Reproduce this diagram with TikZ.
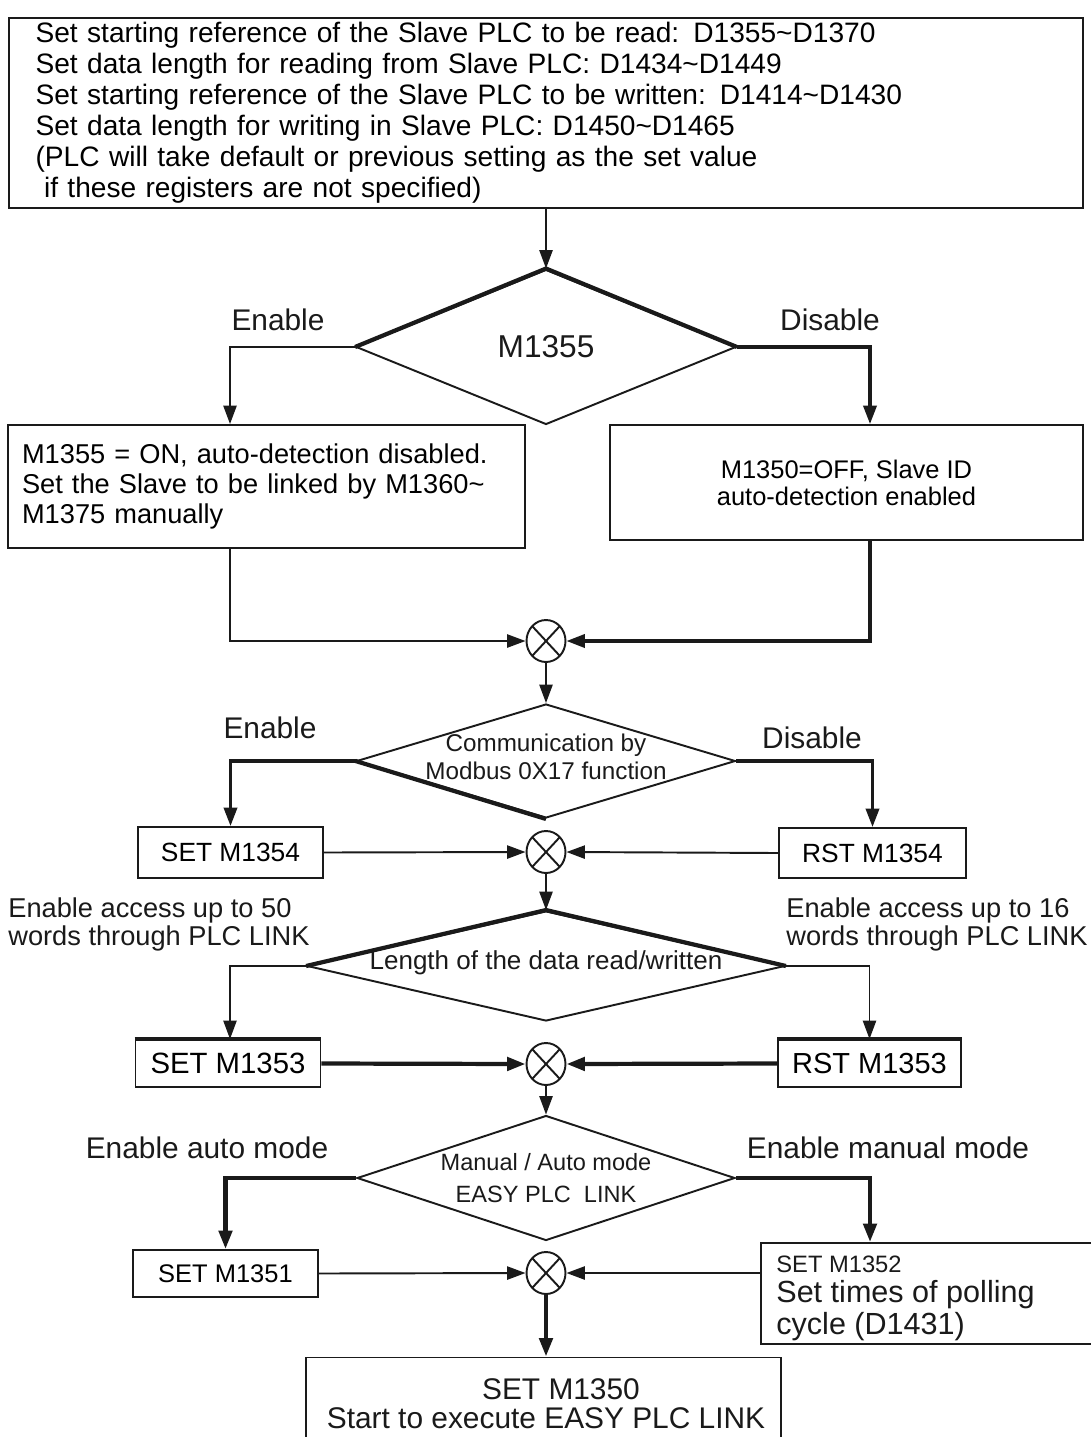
\documentclass[tikz,border=0pt]{standalone}
\usepackage{fontspec}
\setmainfont{Liberation Sans}
\usetikzlibrary{arrows.meta,positioning,shapes.geometric}
\definecolor{InkBlack}{HTML}{1A1A1A}
\tikzset{
  box/.style={draw=InkBlack,line width=1.1pt,inner sep=0pt},
  decision/.style={diamond,draw=InkBlack,line width=1.1pt,inner sep=0pt},
  junction/.style={ellipse,draw=InkBlack,line width=1.1pt,inner sep=0pt,
    minimum width=0.78cm,minimum height=0.84cm,
    path picture={\draw[line width=1.1pt]
      (path picture bounding box.north west)--(path picture bounding box.south east)
      (path picture bounding box.north east)--(path picture bounding box.south west);}},
  flow/.style={draw=InkBlack,line width=1.1pt,-{Triangle[length=10.5pt,width=7.5pt]}},
  boldline/.style={line width=2.4pt},
  lbl/.style={text=InkBlack,inner sep=0pt}
}

\begin{document}
\begin{tikzpicture}[x=0.02cm,y=-0.02cm]
  \useasboundingbox (0,0) rectangle (1091,1437);
  \clip (0,0) rectangle (1091,1437);

  % register setup
  \node[box,minimum width=21.5cm,minimum height=3.8cm,text width=20.42cm,align=left,
        font=\fontsize{16}{17.6}\selectfont] (setup) at (546,113) {%
    Set starting reference of the Slave PLC to be read: D1355\textasciitilde D1370\\
    Set data length for reading from Slave PLC: D1434\textasciitilde D1449\\
    Set starting reference of the Slave PLC to be written: D1414\textasciitilde D1430\\
    Set data length for writing in Slave PLC: D1450\textasciitilde D1465\\
    (PLC will take default or previous setting as the set value\\
    \hspace{0.3em}if these registers are not specified)};

  % M1355
  \node[decision,minimum width=7.6cm,minimum height=3.1cm] (d1) at (546,347) {};
  \node[lbl,font=\fontsize{18}{20}\selectfont] (d1txt) at (d1) {M1355};
  \draw[InkBlack,boldline] (d1.west) -- (d1.north) -- (d1.east);
  \node[lbl,font=\fontsize{17}{19}\selectfont] (en1) at (278,320) {Enable};
  \node[lbl,font=\fontsize{17}{19}\selectfont] (dis1) at (830,320) {Disable};

  \node[box,minimum width=10.34cm,minimum height=2.46cm,text width=9.78cm,align=left,
        font=\fontsize{15.5}{17}\selectfont] (manual) at (266.5,486.5) {%
    M1355 = ON, auto-detection disabled.\\
    Set the Slave to be linked by M1360\textasciitilde\\
    M1375 manually};
  \node[box,minimum width=9.46cm,minimum height=2.3cm,align=center,
        font=\fontsize{14.5}{15.4}\selectfont] (auto) at (846.5,482.5) {%
    M1350=OFF, Slave ID\\
    auto-detection enabled};

  \draw[flow] (setup.south) -- (d1.north);
  \draw[flow] (d1.west) -| ([xshift=-0.73cm]manual.north);
  \draw[flow,line width=1.8pt] (d1.east) -| ([xshift=0.47cm]auto.north);

  \node[junction] (j1) at (546,641) {};
  \draw[flow] ([xshift=-0.73cm]manual.south) |- (j1.west);
  \draw[flow,line width=1.8pt] ([xshift=0.47cm]auto.south) |- (j1.east);

  % Modbus 0X17
  \node[decision,minimum width=7.58cm,minimum height=2.28cm] (d2) at (546,761) {};
  \node[lbl,align=center,font=\fontsize{13.8}{16}\selectfont] (d2txt) at (546,757)
    {Communication by\\Modbus 0X17 function};
  \draw[InkBlack,boldline] (d2.west) -- (d2.south);
  \node[lbl,font=\fontsize{17}{19}\selectfont] (en2) at (270,728) {Enable};
  \node[lbl,font=\fontsize{17}{19}\selectfont] (dis2) at (812,738) {Disable};
  \draw[flow] (j1.south) -- (d2.north);

  \node[box,minimum width=3.7cm,minimum height=1.02cm,font=\fontsize{15}{16}\selectfont]
    (set54) at (230.5,852.5) {SET M1354};
  \node[box,minimum width=3.74cm,minimum height=1.0cm,font=\fontsize{15}{16}\selectfont]
    (rst54) at (872.5,853) {RST M1354};
  \draw[flow,line width=1.8pt] (d2.west) -| (set54.north);
  \draw[flow,line width=1.8pt] (d2.east) -| (rst54.north);

  \node[junction] (j2) at (546,852) {};
  \draw[flow] (set54.east) -- (j2.west);
  \draw[flow] (rst54.west) -- (j2.east);

  % data length
  \node[lbl,align=left,font=\fontsize{15.5}{15.9}\selectfont,anchor=west] (acc50) at (8,924)
    {Enable access up to 50\\words through PLC LINK};
  \node[lbl,align=left,font=\fontsize{15.5}{15.9}\selectfont,anchor=west] (acc16) at (786,924)
    {Enable access up to 16\\words through PLC LINK};

  \node[decision,minimum width=9.56cm,minimum height=2.2cm] (d3) at (546,966) {};
  \node[lbl,font=\fontsize{14.8}{16}\selectfont] (d3txt) at (546,963)
    {Length of the data read/written};
  \draw[InkBlack,boldline] (d3.west) -- (d3.north) -- (d3.east);
  \draw[flow] (j2.south) -- (d3.north);

  \node[box,minimum width=3.7cm,minimum height=0.94cm,font=\fontsize{16.7}{18}\selectfont]
    (set53) at (228,1063.5) {SET M1353};
  \node[box,minimum width=3.66cm,minimum height=0.94cm,font=\fontsize{16.5}{18}\selectfont]
    (rst53) at (869.5,1063.5) {RST M1353};
  \draw[InkBlack,boldline] (set53.north west) -- (set53.north east);
  \draw[InkBlack,boldline] (rst53.north west) -- (rst53.north east);
  \draw[flow] (d3.west) -| ([xshift=0.04cm]set53.north);
  \draw[flow] (d3.east) -| (rst53.north);

  \node[junction] (j3) at (546,1064) {};
  \draw[flow,boldline] (set53.east) -- (j3.west);
  \draw[flow,boldline] (rst53.west) -- (j3.east);

  % manual / auto mode
  \node[decision,minimum width=7.56cm,minimum height=2.5cm] (d4) at (546,1178) {};
  \node[lbl,align=center,font=\fontsize{13.4}{18}\selectfont] (d4txt) at (546,1178)
    {Manual / Auto mode\\EASY PLC\ \ LINK};
  \node[lbl,font=\fontsize{17}{19}\selectfont] (enauto) at (207,1148) {Enable auto mode};
  \node[lbl,font=\fontsize{17}{19}\selectfont] (enman) at (888,1148) {Enable manual mode};
  \draw[flow] (j3.south) -- (d4.north);

  \node[box,minimum width=3.7cm,minimum height=0.94cm,font=\fontsize{14.5}{16}\selectfont]
    (set51) at (225.5,1273.5) {SET M1351};
  \node[box,minimum width=7cm,minimum height=2.02cm] (set52) at (936,1293.5) {};
  \node[lbl,align=left,anchor=north west,font=\fontsize{17.4}{17}\selectfont] (set52txt)
    at (776,1256)
    {{\fontsize{13.5}{17}\selectfont SET M1352}\\Set times of polling\\[1pt]cycle (D1431)};
  \draw[flow,boldline] (d4.west) -| (set51.north);
  \draw[flow,boldline] (d4.east) -| ([xshift=-1.32cm]set52.north);

  \node[junction] (j4) at (546,1273) {};
  \draw[flow] (set51.east) -- (j4.west);
  \draw[flow] (set52.west |- j4.east) -- (j4.east);

  % start
  \node[box,minimum width=9.5cm,minimum height=2.06cm] (start) at (543.5,1409) {};
  \node[lbl,align=center,font=\fontsize{17}{16.5}\selectfont] (starttxt) at (546,1404)
    {\hspace{0.6cm}SET M1350\\Start to execute EASY PLC LINK};
  \draw[flow,boldline] (j4.south) -- (j4.south |- start.north);
\end{tikzpicture}
\end{document}
